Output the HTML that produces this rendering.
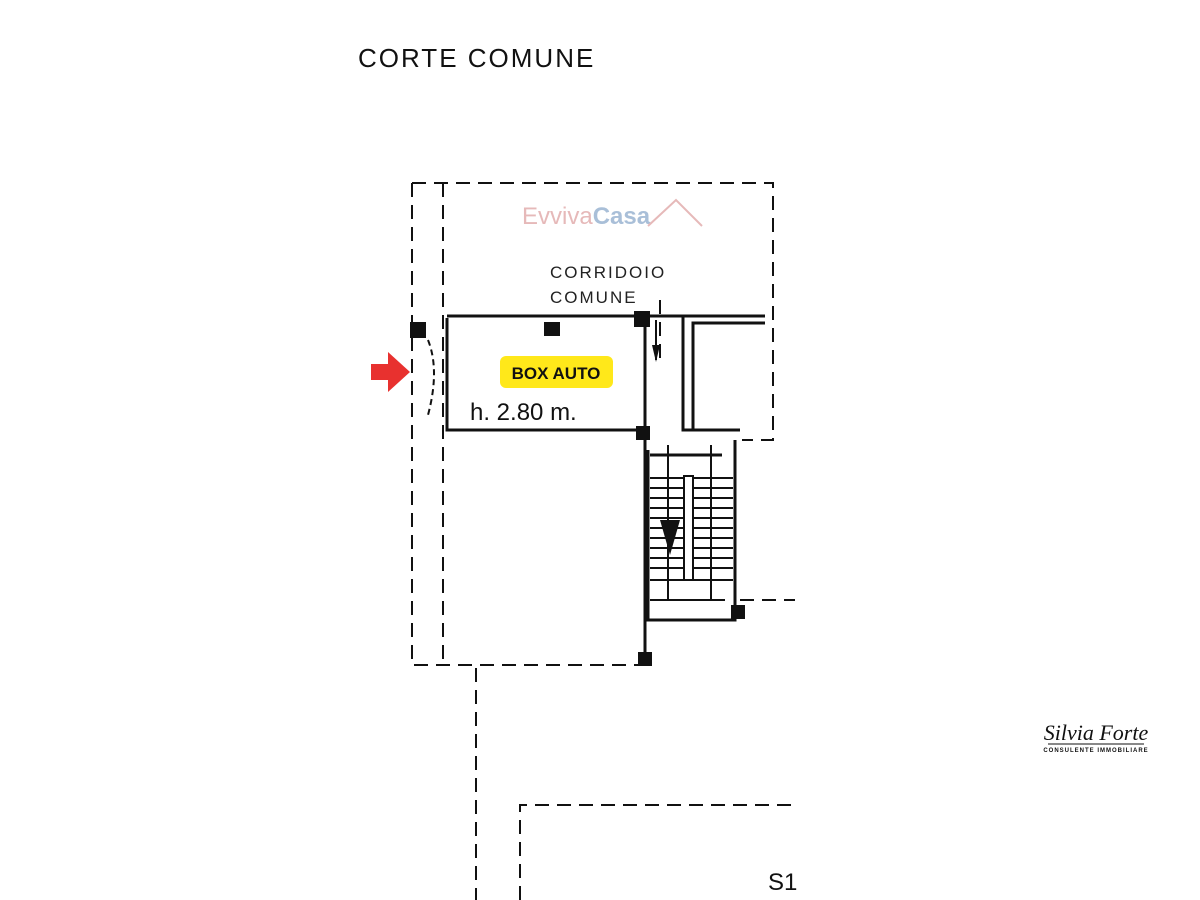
<!DOCTYPE html>
<html><head><style>body{margin:0;background:#fff}svg{display:block}</style></head>
<body>
<svg width="1200" height="900" viewBox="0 0 1200 900" xmlns="http://www.w3.org/2000/svg" font-family="Liberation Sans, sans-serif">
<rect width="1200" height="900" fill="#fff"/>
<text x="358" y="67" font-size="26" letter-spacing="2" fill="#111">CORTE COMUNE</text>
<g stroke="#111" stroke-width="2" fill="none" stroke-dasharray="14,8">
<path d="M412 183 H773 V440 H742"/>
<path d="M412 183 V665 H645"/>
<path d="M443 183 V665"/>
<path d="M476 668 V900"/>
<path d="M520 900 V805 H795"/>
<path d="M740 600 H795"/>
<path d="M660 300 V360"/>
</g>
<g stroke="#111" stroke-width="3" fill="none">
<path d="M447 316 H765"/>
<path d="M447 318 V430 H645"/>
<path d="M645 316 V665"/>
<path d="M683 316 V430 H740"/>
<path d="M693 430 V323 H765"/>
<path d="M648 450 V620 H735 V440"/>
<path d="M650 455 H722"/>
</g>
<g stroke="#111" stroke-width="2">
<path d="M650 478 H733 M650 488 H733 M650 498 H733 M650 508 H733 M650 518 H733 M650 528 H733 M650 538 H733 M650 548 H733 M650 558 H733 M650 568 H733 M650 580 H733 M650 600 H725"/>
<path d="M668 445 V600 M711 445 V600"/>
</g>
<rect x="684" y="476" width="9" height="104" fill="#fff" stroke="#111" stroke-width="2"/>
<path d="M660 520 L680 520 L670 555 Z" fill="#111"/>
<path d="M656 320 V360" stroke="#111" stroke-width="2"/>
<path d="M652 345 L660 345 L656 362 Z" fill="#111"/>
<g fill="#111">
<rect x="410" y="322" width="16" height="16"/>
<rect x="544" y="322" width="16" height="14"/>
<rect x="634" y="311" width="16" height="16"/>
<rect x="636" y="426" width="14" height="14"/>
<rect x="638" y="652" width="14" height="14"/>
<rect x="731" y="605" width="14" height="14"/>
</g>
<path d="M428 340 Q440 370 428 415" stroke="#111" stroke-width="2" fill="none" stroke-dasharray="6,4"/>
<path d="M371 364 H388 V352 L410 372 L388 392 V380 H371 Z" fill="#e8312f"/>
<text x="550" y="278" font-size="17" letter-spacing="2" fill="#222">CORRIDOIO</text>
<text x="550" y="303" font-size="17" letter-spacing="2" fill="#222">COMUNE</text>
<text x="522" y="224" font-size="24" fill="#e6b9b9">Evviva<tspan fill="#a9bfd8" font-weight="bold">Casa</tspan></text>
<path d="M648 226 L676 200 L702 226" stroke="#e6b9b9" stroke-width="2" fill="none"/>
<rect x="500" y="356" width="113" height="32" rx="6" fill="#ffe81a"/>
<text x="556" y="379" font-size="17" font-weight="bold" text-anchor="middle" fill="#111">BOX AUTO</text>
<text x="470" y="420" font-size="24" fill="#111">h. 2.80 m.</text>
<text x="768" y="890" font-size="24" fill="#111">S1</text>
<text x="1096" y="740" font-size="22" font-style="italic" font-family="Liberation Serif, serif" text-anchor="middle" fill="#111">Silvia Forte</text>
<line x1="1048" y1="744" x2="1144" y2="744" stroke="#111" stroke-width="1"/>
<text x="1096" y="752" font-size="6" font-weight="bold" text-anchor="middle" letter-spacing="1" fill="#111">CONSULENTE IMMOBILIARE</text>
</svg>
</body></html>
